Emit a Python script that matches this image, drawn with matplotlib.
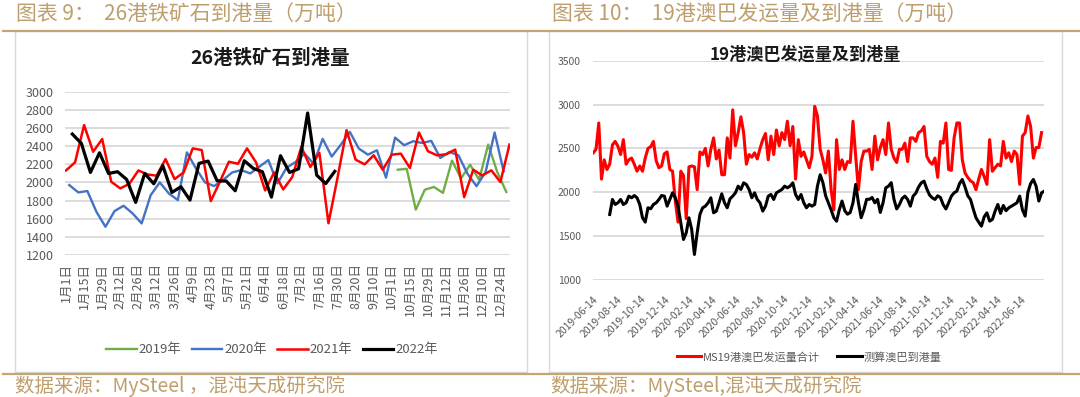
import matplotlib
matplotlib.use('Agg')
import matplotlib.pyplot as plt
from matplotlib.patches import Rectangle
from matplotlib.lines import Line2D
import pandas as pd

plt.rcParams['font.family'] = ['Noto Sans CJK SC', 'DejaVu Sans']

# ---------------- data: left chart (26 ports iron ore arrivals, weekly) -------------
left_tick_labels = ['1月1日', '1月15日', '1月29日', '2月12日', '2月26日', '3月12日', '3月26日',
                    '4月9日', '4月23日', '5月7日', '5月21日', '6月4日', '6月18日', '7月2日',
                    '7月16日', '7月30日', '8月20日', '9月10日', '10月1日', '10月15日',
                    '10月29日', '11月12日', '11月26日', '12月10日', '12月24日']
series_2021 = [2132, 2221, 2632, 2338, 2478, 2007, 1934, 1985, 2132, 2088,
               2074, 2257, 2037, 2110, 2375, 2357, 1794, 2007, 2228, 2206,
               2375, 2221, 1912, 2110, 1923, 2059, 2391, 2170, 2325, 1550,
               2050, 2576, 2251, 2199, 2299, 2140, 2306, 2317, 2159, 2550,
               2343, 2299, 2310, 2362, 1838, 2140, 2077, 2133, 2004, 2417]
series_2020 = [1971, 1890, 1905, 1677, 1511, 1684, 1743, 1658, 1548, 1860,
               2000, 1879, 1805, 2331, 2154, 2000, 1960, 2026, 2110, 2136,
               2099, 2173, 2246, 1989, 2160, 2225, 2317, 2207, 2480, 2285,
               2415, 2557, 2373, 2306, 2354, 2052, 2494, 2410, 2454, 2435,
               2458, 2269, 2336, 2299, 2096, 1959, 2114, 2550, 2122]
series_2022 = [2533, 2430, 2110, 2327, 2099, 2118, 2033, 1780, 2099, 1985,
               2184, 1890, 1952, 1805, 2210, 2235, 2018, 2015, 1908, 2239,
               2154, 2118, 1838, 2294, 2110, 2150, 2765, 2080, 1987, 2122]
series_2019 = [2140, 2150, 1700, 1920, 1950, 1885, 2240, 2045, 2195, 2030, 2418, 2115, 1895]
series_2019_first_week = 37

# ---------------- data: right chart (19 ports Australia+Brazil) ---------------------
ship_start = '2019-06-14'
ship_total = [2450, 2490, 2790, 2150, 2370, 2260, 2320, 2540, 2580, 2525,
              2430, 2600, 2320, 2370, 2390, 2320, 2240, 2300, 2240, 2390,
              2500, 2520, 2580, 2360, 2280, 2300, 2440, 2460, 2260, 2240,
              1900, 1660, 2240, 2190, 1700, 2290, 2300, 2290, 2030, 2460,
              2430, 2500, 2300, 2490, 2620, 2380, 2480, 2200, 2200, 2620,
              2390, 2940, 2530, 2680, 2860, 2680, 2320, 2430, 2400, 2450,
              2380, 2500, 2600, 2670, 2370, 2640, 2430, 2710, 2530, 2680,
              2600, 2810, 2530, 2750, 2150, 2600, 2410, 2460, 2370, 2280,
              2410, 2980, 2870, 2490, 2370, 2220, 2470, 2030, 1800, 2600,
              2260, 2370, 2260, 2350, 2340, 2810, 2410, 2030, 2350, 2470,
              2470, 2490, 2260, 2640, 2370, 2510, 2600, 2430, 2790, 2490,
              2390, 2340, 2490, 2490, 2560, 2350, 2620, 2620, 2580, 2680,
              2700, 2750, 2410, 2350, 2320, 2390, 2170, 2580, 2560, 2790,
              2260, 2250, 2620, 2790, 2790, 2370, 2220, 2170, 2130, 2110,
              2030, 2150, 2260, 2180, 2090, 2600, 2240, 2280, 2320, 2300,
              2580, 2390, 2450, 2350, 2470, 2430, 2090, 2640, 2680, 2870,
              2750, 2390, 2510, 2510, 2680]
arrival_start = '2019-07-26'
arrival_est = [1747, 1918, 1861, 1880, 1918, 1861, 1880, 1956, 1937, 1963,
               1937, 1861, 1709, 1660, 1823, 1812, 1861, 1880, 1918, 1963,
               1956, 1842, 1918, 1994, 1937, 1842, 1652, 1462, 1538, 1709,
               1576, 1291, 1538, 1747, 1823, 1842, 1880, 1937, 1766, 1785,
               1880, 1982, 1880, 1823, 1925, 1956, 1994, 2070, 2032, 2108,
               2089, 2032, 1937, 1994, 1918, 1880, 1785, 1842, 1956, 1975,
               1918, 1994, 2013, 2032, 2070, 2051, 2070, 2108, 1975, 1918,
               1975, 1880, 1823, 1861, 1842, 1861, 2070, 2200,
               2110, 1960, 1880, 1800, 1710, 1670, 1800, 1900, 1790, 1750,
               1770, 1880, 2090, 1880, 1710, 1800, 1920, 1920, 1940, 1880,
               1920, 1770, 1880, 2050, 2070, 2110, 1920, 1810, 1860, 1930,
               1956, 1918, 1842, 1956, 1990, 2060, 2108, 2127, 2040, 1970,
               1937, 1918, 1960, 1940, 1860, 1810, 1880, 1956, 1994, 2013,
               2100, 2146, 2060, 1960, 1918, 1810, 1710, 1660, 1614, 1720,
               1766, 1671, 1690, 1785, 1861, 1760, 1850, 1790, 1823, 1842,
               1861, 1880, 1956, 1800, 1728, 2000, 2100, 2146, 2070, 1900,
               1994, 2013]
right_tick_start, right_tick_end = '2019-06-14', '2022-06-14'

# ---------------- styling -----------------------------------------------------------
W, H = 1080, 397
GOLD = '#BE9E6C'
GRID = '#D9D9D9'
TICK = '#595959'
C2019, C2020, C2021, C2022 = '#70AD47', '#4472C4', '#FF0000', '#000000'

fig = plt.figure(figsize=(W / 100, H / 100), dpi=100)


def px_axes(x0, y0, x1, y1):
    ax = fig.add_axes([x0 / W, 1 - y1 / H, (x1 - x0) / W, (y1 - y0) / H])
    ax.set_zorder(2)
    return ax


def fx(x):
    return x / W


def fy(y):
    return 1 - y / H


# frames and gold rules
for (x0, x1) in [(14.5, 527), (548.5, 1062)]:
    fig.patches.append(Rectangle((fx(x0), fy(371.5)), fx(x1 - x0), (371.5 - 31) / H,
                                 transform=fig.transFigure, facecolor='white',
                                 edgecolor='#D9D9D9', lw=1.0, zorder=-5))
for yy in (30.5, 373.5):
    fig.lines.append(Line2D([fx(3), 1], [fy(yy), fy(yy)], transform=fig.transFigure,
                            color='#C4A574', lw=1.6, zorder=-4))

fig.text(fx(16), fy(15), '图表 9：  26港铁矿石到港量（万吨）', color=GOLD, fontsize=15,
         va='center', ha='left')
fig.text(fx(552), fy(15), '图表 10：  19港澳巴发运量及到港量（万吨）', color=GOLD, fontsize=15,
         va='center', ha='left')
fig.text(fx(15), fy(386), '数据来源：MySteel ，混沌天成研究院', color=GOLD, fontsize=14,
         va='center', ha='left')
fig.text(fx(550), fy(386), '数据来源：MySteel,混沌天成研究院', color=GOLD, fontsize=14,
         va='center', ha='left')

# ---------------- left chart --------------------------------------------------------
ax1 = px_axes(65, 91.7, 510, 255)
n_cat = len(series_2021)
cats = list(range(n_cat))
shift_2020, shift_2022, shift_2019 = 0.36, 0.70, -0.35
g_x = [series_2019_first_week + i + shift_2019 for i in range(len(series_2019))]
ax1.plot(g_x, series_2019, color=C2019, lw=1.7, label='2019年')
ax1.plot([i + shift_2020 for i in range(len(series_2020))], series_2020, color=C2020, lw=1.7,
         label='2020年')
ax1.plot(cats, series_2021, color=C2021, lw=1.8, label='2021年')
ax1.plot([i + shift_2022 for i in range(len(series_2022))], series_2022, color=C2022, lw=2.3,
         label='2022年')
ax1.set_xlim(-0.11, 49.06)
ax1.set_ylim(1200, 3000)
ax1.set_yticks(range(1200, 3001, 200))
ax1.set_xticks(range(0, 2 * len(left_tick_labels), 2))
ax1.set_xticklabels(left_tick_labels, rotation=90, ha='center', va='top')
ax1.yaxis.grid(True, color=GRID, lw=1.3)
ax1.set_axisbelow(True)
for s in ax1.spines.values():
    s.set_visible(False)
ax1.tick_params(length=0, colors=TICK, labelsize=9)
ax1.tick_params(axis='y', pad=8)
ax1.tick_params(axis='x', pad=6)
ax1.patch.set_visible(False)
fig.text(fx(270), fy(58), '26港铁矿石到港量', fontsize=14, fontweight='bold', ha='center',
         va='center', color='#1a1a1a')
fig.legend(handles=ax1.get_lines(), loc='center', bbox_to_anchor=(fx(272), fy(350)),
           ncol=4, frameon=False, fontsize=9.5, handlelength=2.3, handletextpad=0.15,
           columnspacing=0.8, labelcolor=TICK)

# ---------------- right chart -------------------------------------------------------
ship_dates = pd.date_range(ship_start, periods=len(ship_total), freq='7D')
arr_dates = pd.date_range(arrival_start, periods=len(arrival_est), freq='7D')
ax2 = px_axes(593.3, 60.7, 1044.3, 280)
ax2.plot(ship_dates, ship_total, color=C2021, lw=2.2, label='MS19港澳巴发运量合计')
ax2.plot(arr_dates, arrival_est, color=C2022, lw=2.2, label='测算澳巴到港量')
ax2.set_xlim(ship_dates[0], arr_dates[-1])
ax2.set_ylim(1000, 3500)
ax2.set_yticks(range(1000, 3501, 500))
rticks = pd.date_range(right_tick_start, right_tick_end, freq=pd.DateOffset(months=2))
ax2.set_xticks(rticks)
ax2.set_xticklabels([d.strftime('%Y-%m-%d') for d in rticks], rotation=45, ha='right',
                    va='top', rotation_mode='anchor')
ax2.yaxis.grid(True, color=GRID, lw=1.3)
ax2.set_axisbelow(True)
for s in ax2.spines.values():
    s.set_visible(False)
ax2.tick_params(length=0, colors=TICK, labelsize=7.5)
ax2.tick_params(axis='y', pad=9)
ax2.tick_params(axis='x', pad=10)
ax2.patch.set_visible(False)
fig.text(fx(805), fy(55), '19港澳巴发运量及到港量', fontsize=12.3, fontweight='bold', ha='center',
         va='center', color='#1a1a1a')
fig.legend(handles=ax2.get_lines(), loc='center', bbox_to_anchor=(fx(809), fy(357)),
           ncol=2, frameon=False, fontsize=8, handlelength=2.2, handletextpad=0.15,
           columnspacing=1.6, labelcolor=TICK)

fig.savefig('out.png', dpi=100)
